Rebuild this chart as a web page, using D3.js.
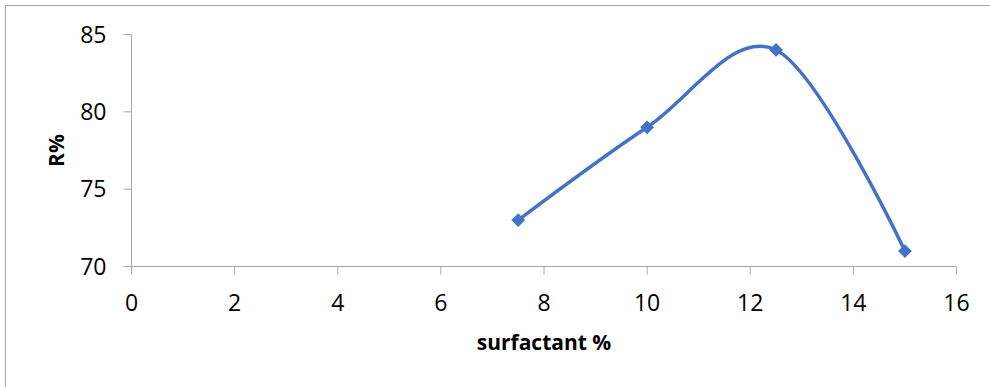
<!DOCTYPE html>
<html><head><meta charset="utf-8">
<script src="https://cdn.jsdelivr.net/npm/d3@7"></script>
<style>body{margin:0;background:#fff}svg{display:block}</style>
</head><body>
<svg id="c" width="990" height="387"></svg>
<script>
const surfactant = [7.5, 10, 12.5, 15];
const rPercent = [73, 79, 84, 71];
const xTicks = [0, 2, 4, 6, 8, 10, 12, 14, 16];
const yTicks = [70, 75, 80, 85];
const xTitle = "surfactant %";
const yTitle = "R%";

const svg = d3.select("#c");
const font = "'Open Sans', sans-serif";
const axisColor = "#a6a6a6";
const lineColor = "#4472C4";

svg.append("rect").attr("x",5.5).attr("y",5.5).attr("width",1000).attr("height",400)
  .attr("fill","none").attr("stroke","#a6a6a6").attr("stroke-width",1);

const x = d3.scaleLinear().domain([0,16]).range([131.5,956.5]);
const y = d3.scaleLinear().domain([70,85]).range([266.5,34.5]);

// y axis
const ya = svg.append("g").attr("transform","translate(131.5,0)");
ya.append("line").attr("y1",y(85)).attr("y2",y(70)).attr("stroke",axisColor);
yTicks.forEach(t=>{
  ya.append("line").attr("x1",-8).attr("x2",0).attr("y1",y(t)).attr("y2",y(t)).attr("stroke",axisColor);
  ya.append("text").attr("x",-25).attr("y",y(t)).attr("dy","0.36em").attr("text-anchor","end")
    .attr("font-family",font).attr("font-size",23).attr("fill","#000").text(t);
});
// x axis
const xa = svg.append("g").attr("transform","translate(0,266.5)");
xa.append("line").attr("x1",x(0)).attr("x2",x(16)).attr("stroke",axisColor);
xTicks.forEach(t=>{
  xa.append("line").attr("x1",x(t)).attr("x2",x(t)).attr("y1",0).attr("y2",8).attr("stroke",axisColor);
  xa.append("text").attr("x",x(t)).attr("y",44).attr("text-anchor","middle")
    .attr("font-family",font).attr("font-size",23).attr("fill","#000").text(t);
});

svg.append("text").attr("x",544).attr("y",350).attr("text-anchor","middle")
  .attr("font-family",font).attr("font-weight","bold").attr("font-size",21).text(xTitle);
svg.append("text").attr("transform","translate(64,150.5) rotate(-90)").attr("text-anchor","middle")
  .attr("font-family",font).attr("font-weight","bold").attr("font-size",21).text(yTitle);

const pts = surfactant.map((s,i)=>[s, rPercent[i]]);
const line = d3.line().x(d=>x(d[0])).y(d=>y(d[1])).curve(d3.curveCardinal.tension(0));
svg.append("path").attr("d",line(pts)).attr("fill","none").attr("stroke",lineColor)
  .attr("stroke-width",3.5).attr("stroke-linecap","round");

svg.selectAll(".m").data(pts).enter().append("path")
  .attr("d", d3.symbol(d3.symbolSquare, 95)())
  .attr("transform", d=>`translate(${x(d[0])},${y(d[1])}) rotate(45)`)
  .attr("fill",lineColor);
</script>
</body></html>
